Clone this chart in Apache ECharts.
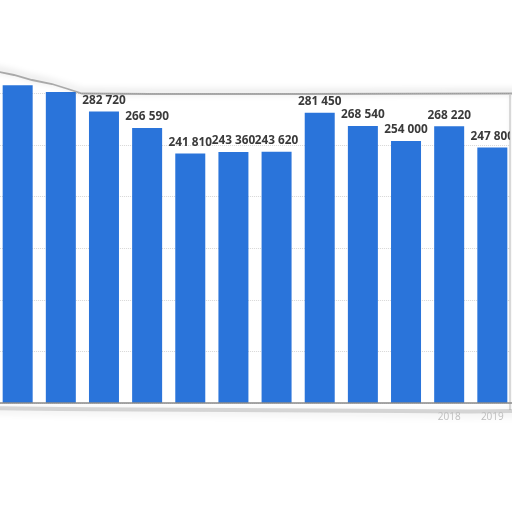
<!DOCTYPE html>
<html lang="en">
<head>
    <meta charset="UTF-8">
    <title>bar chart</title>
    <script src="https://cdn.jsdelivr.net/npm/echarts@6/dist/echarts.min.js"></script>
    <style>
        html, body { margin: 0; padding: 0; background: #fff; }
        #main { width: 512px; height: 512px; }
    </style>
</head>
<body>
<div id="main"></div>
<script type="text/javascript">
  // years (only the last two labels survive the torn edge)
  var years = ['2008', '2009', '2010', '2011', '2012', '2013', '2014', '2015', '2016', '2017', '2018', '2019'];
  // first two values are estimated from bar heights, their labels are torn off
  var values = [308000, 301500, 282720, 266590, 241810, 243360, 243620, 281450, 268540, 254000, 268220, 247800];
  var hiddenLabels = [0, 1];
  var shownYears = ['2018', '2019'];
  var yTicks = [0, 50000, 100000, 150000, 200000, 250000, 300000, 350000];

  function fmt(v) {
    return String(v).replace(/\B(?=(\d{3})+(?!\d))/g, ' ');
  }

  var barData = values.map(function (v, i) {
    return hiddenLabels.indexOf(i) >= 0 ? { value: v, label: { show: false } } : v;
  });

  var myChart = echarts.init(document.getElementById('main'));
  var option = {
    backgroundColor: '#fff',
    animation: false,
    grid: { left: -3.9, right: -1.9, top: 42, bottom: 109, outerBoundsMode: 'none' },
    xAxis: {
      type: 'category',
      data: years,
      z: 200,
      axisTick: { show: false },
      axisLine: { lineStyle: { color: '#8a8a8a', width: 1.5 } },
      axisLabel: {
        margin: 9,
        color: '#bdbdbd',
        fontSize: 10,
        fontFamily: 'Open Sans',
        interval: 0,
        formatter: function (v) { return shownYears.indexOf(v) >= 0 ? v : ''; }
      }
    },
    yAxis: {
      type: 'value',
      min: yTicks[0],
      max: yTicks[yTicks.length - 1],
      interval: 50000,
      axisLabel: { show: false },
      axisLine: { show: false },
      axisTick: { show: false },
      splitLine: { lineStyle: { color: '#d6d6d6', type: 'dotted', width: 1 } }
    },
    series: [{
      type: 'bar',
      data: barData,
      barWidth: 30,
      itemStyle: { color: '#2a74da' },
      label: {
        show: true,
        position: 'top',
        distance: 5,
        color: '#3a3a3a',
        fontSize: 11.8,
        fontWeight: 'bold',
        fontFamily: 'Open Sans',
        formatter: function (p) { return fmt(p.value); }
      }
    }],
    graphic: [
      // torn paper: white background above the top edge
      {
        type: 'polygon', z: 100, silent: true,
        shape: { points: [[-10, -10], [522, -10], [522, 93], [300, 93.5], [150, 93.5], [82, 93], [68, 89], [52, 84], [32, 80], [14, 75], [-10, 70]] },
        style: { fill: '#fff' }
      },
      {
        type: 'polyline', z: 101, silent: true,
        shape: { points: [[522, 93.5], [300, 94], [150, 94], [82, 93.5], [68, 89], [52, 84], [32, 80], [14, 75], [-10, 70]] },
        style: { stroke: 'rgba(120,120,120,0.6)', lineWidth: 1.8, shadowBlur: 7, shadowColor: 'rgba(0,0,0,0.45)', shadowOffsetY: -2 }
      },
      // right edge
      {
        type: 'rect', z: 100, silent: true,
        shape: { x: 510, y: 90, width: 20, height: 330 },
        style: { fill: '#fff' }
      },
      {
        type: 'line', z: 101, silent: true,
        shape: { x1: 510, y1: 95, x2: 510, y2: 410 },
        style: { stroke: 'rgba(140,140,140,0.4)', lineWidth: 1.5, shadowBlur: 4, shadowColor: 'rgba(0,0,0,0.3)', shadowOffsetX: 1 }
      },
      // bottom torn edge shadow
      {
        type: 'polyline', z: 101, silent: true,
        shape: { points: [[-10, 408], [60, 409], [140, 409.5], [230, 410], [320, 410.5], [400, 411], [470, 411.5], [522, 411]] },
        style: { stroke: 'rgba(150,150,150,0.35)', lineWidth: 4, shadowBlur: 8, shadowColor: 'rgba(0,0,0,0.3)', shadowOffsetY: 2 }
      }
    ]
  };
  myChart.setOption(option);

  window.addEventListener('resize', function () {
    myChart.resize();
  });
</script>
</body>
</html>
